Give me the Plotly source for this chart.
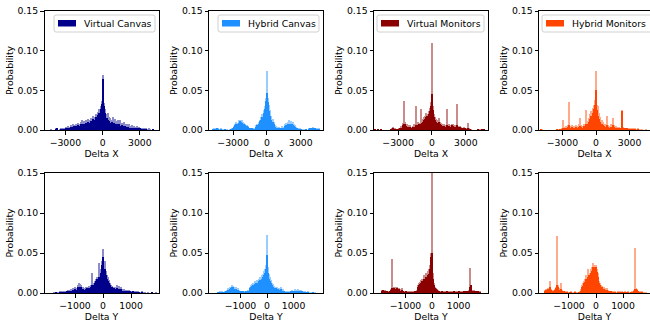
import plotly.graph_objects as go

# ---------------- data ----------------
dx_bins = list(range(-5000, 5001, 100))   # bin centers, Delta X
dy_bins = list(range(-2000, 2001, 40))    # bin centers, Delta Y

conditions = ["Virtual Canvas", "Hybrid Canvas", "Virtual Monitors", "Hybrid Monitors"]
colors = ["#00008b", "#1e90ff", "#8b0000", "#ff4500"]

# Virtual Canvas, Delta X
vc_x_light = [0,0,0,0,0,0,0,0,.001,0,
              0,0,.002,.002,0,.001,.002,.001,.003,.002,
              .004,.003,.005,.004,.006,.005,.007,.006,.008,.007,
              .009,.008,.010,.012,.009,.011,.013,.010,.014,.012,
              .015,.013,.018,.016,.020,.019,.023,.026,.030,.036,
              .069,
              .034,.026,.020,.022,.017,.015,.013,.016,.012,.014,
              .011,.013,.010,.012,.009,.008,.010,.007,.008,.006,
              .007,.005,.006,.004,.005,.004,.005,.003,.004,.003,
              .003,.002,.003,.002,.002,.001,.002,.001,0,.001,
              0,0,0,0,0,0,0,0,0,0]
vc_x_solid = [0,0,0,0,0,0,0,0,0,0,
              0,0,.001,.002,0,0,.001,0,.001,.001,
              .002,.002,.003,.002,.004,.003,.004,.005,.005,.004,
              .006,.005,.007,.006,.008,.007,.009,.008,.010,.009,
              .011,.010,.014,.012,.016,.015,.019,.022,.026,.033,
              .064,
              .030,.021,.015,.013,.011,.009,.010,.008,.009,.007,
              .007,.006,.007,.005,.006,.005,.004,.005,.004,.004,
              .003,.003,.002,.003,.002,.002,.003,.002,.001,.002,
              .001,.001,.001,0,.001,0,0,0,0,.001,
              0,0,0,0,0,0,0,0,0,0]

# Hybrid Canvas, Delta X
hc_x_light = [0,0,.001,.002,0,.002,.003,.002,.001,.002,
              .001,0,.001,.001,0,.001,0,.001,.001,.002,
              .003,.005,.008,.010,.009,.012,.013,.011,.012,.010,
              .009,.008,.006,.005,.003,.003,.002,.003,.002,.002,
              .006,.008,.007,.010,.013,.016,.020,.025,.030,.040,
              .075,
              .040,.032,.025,.018,.014,.010,.006,.005,.004,.003,
              .004,.003,.005,.003,.004,.007,.009,.008,.010,.012,
              .011,.009,.010,.008,.006,.004,.003,.002,.002,.001,
              .001,.001,0,.001,.001,0,.002,.003,.002,.003,
              .004,.002,.003,.002,.001,.002,0,0,0,0]
hc_x_solid = [0,0,.001,.001,0,.001,.002,.001,0,.001,
              0,0,0,.001,0,0,0,0,.001,.001,
              .002,.004,.006,.008,.007,.009,.011,.010,.009,.008,
              .007,.006,.005,.004,.002,.002,.001,.002,.001,.001,
              .004,.006,.005,.008,.011,.013,.017,.021,.026,.036,
              .047,
              .035,.024,.018,.013,.010,.007,.004,.003,.003,.002,
              .003,.002,.003,.002,.003,.005,.006,.006,.008,.007,
              .008,.007,.006,.005,.004,.003,.002,.001,.001,.001,
              0,0,0,0,.001,0,.001,.002,.001,.002,
              .002,.001,.002,.001,0,.001,0,0,0,0]

# Virtual Monitors, Delta X
vm_x_light = [.001,0,.001,0,0,.001,0,0,0,0,
              0,0,0,0,.001,.002,.004,.002,.001,.001,
              .001,.002,.003,.005,.009,.037,.010,.008,.007,.006,
              .005,.006,.004,.005,.007,.006,.030,.008,.010,.009,
              .026,.012,.014,.016,.018,.022,.020,.024,.028,.035,
              .110,
              .030,.020,.016,.014,.012,.015,.010,.009,.008,.007,
              .008,.006,.027,.006,.007,.005,.006,.008,.007,.006,
              .006,.033,.005,.004,.005,.004,.003,.004,.003,.002,
              .002,.009,.002,.001,.001,0,0,0,0,0,
              .001,0,.001,.001,0,.001,0,0,0,0]
vm_x_solid = [.001,0,.001,0,0,.001,0,0,0,0,
              0,0,0,0,.001,.001,.002,.001,.001,0,
              .001,.001,.002,.003,.006,.008,.007,.005,.004,.004,
              .003,.004,.003,.004,.004,.004,.006,.005,.006,.007,
              .008,.009,.010,.012,.014,.016,.018,.020,.024,.030,
              .045,
              .025,.016,.012,.010,.009,.010,.007,.006,.005,.005,
              .005,.004,.006,.004,.005,.004,.004,.006,.005,.004,
              .004,.006,.004,.003,.004,.003,.002,.002,.002,.001,
              .001,.002,.001,.001,0,0,0,0,0,0,
              .001,0,0,.001,0,.001,0,0,0,0]

# Hybrid Monitors, Delta X
hm_x_light = [0,.001,.001,0,0,0,0,0,0,0,
              0,0,0,0,0,.001,.001,0,.001,.001,
              .002,.013,.004,.005,.004,.006,.035,.005,.004,.006,
              .005,.004,.006,.005,.004,.007,.015,.006,.005,.007,
              .008,.025,.009,.011,.015,.020,.024,.028,.032,.038,
              .075,
              .032,.030,.022,.016,.012,.010,.008,.007,.006,.018,
              .006,.005,.007,.005,.015,.006,.004,.005,.004,.003,
              .004,.003,.025,.004,.003,.003,.002,.003,.002,.002,
              .002,.001,.002,.001,.002,.001,.001,.002,.001,0,
              .001,0,0,0,.001,0,0,0,0,0]
hm_x_solid = [0,.001,0,0,0,0,0,0,0,0,
              0,0,0,0,0,.001,0,0,.001,0,
              .001,.003,.002,.003,.002,.004,.006,.003,.003,.004,
              .003,.003,.004,.003,.003,.004,.005,.004,.003,.005,
              .005,.008,.006,.008,.010,.014,.018,.022,.026,.032,
              .050,
              .025,.018,.014,.010,.008,.006,.005,.004,.004,.006,
              .004,.003,.004,.003,.006,.004,.003,.003,.002,.002,
              .002,.002,.024,.002,.002,.002,.001,.002,.001,.001,
              .001,0,.001,0,.001,0,0,.001,0,0,
              0,0,0,0,0,0,0,0,0,0]

# Virtual Canvas, Delta Y
vc_y_light = [0,0,0,0,0,0,.001,0,.001,.001,
              .001,.002,.001,.002,.001,.002,.002,.003,.004,.003,
              .004,.005,.004,.006,.005,.007,.006,.010,.012,.011,
              .010,.008,.007,.006,.007,.008,.006,.009,.008,.010,
              .025,.012,.015,.017,.020,.018,.037,.024,.030,.040,
              .055,
              .040,.028,.022,.020,.016,.013,.010,.009,.008,.007,
              .008,.010,.007,.009,.006,.008,.005,.005,.004,.004,
              .004,.003,.004,.003,.002,.003,.002,.002,.002,.001,
              .002,.001,.001,.002,.001,0,.001,0,0,.001,
              0,0,.001,0,0,0,.001,0,0,0]
vc_y_solid = [0,0,0,0,0,0,0,0,.001,0,
              0,.001,0,.001,0,.001,.001,.002,.002,.002,
              .003,.003,.003,.004,.004,.005,.004,.007,.008,.007,
              .008,.005,.005,.004,.005,.006,.004,.006,.006,.007,
              .010,.010,.013,.015,.017,.016,.020,.020,.025,.035,
              .045,
              .030,.022,.018,.015,.012,.010,.008,.007,.006,.005,
              .005,.006,.005,.005,.004,.005,.003,.003,.003,.003,
              .002,.002,.002,.002,.001,.002,.001,.001,.001,.001,
              .001,.001,0,.001,0,0,0,0,0,0,
              0,0,.001,0,0,0,0,0,0,0]

# Hybrid Canvas, Delta Y
hc_y_light = [0,0,0,0,.001,.001,.002,.001,.002,.001,
              .002,.003,.004,.006,.005,.007,.008,.010,.009,.007,
              .006,.007,.005,.006,.004,.003,.002,.003,.002,.002,
              .003,.002,.004,.003,.008,.010,.011,.013,.012,.015,
              .014,.016,.018,.020,.019,.022,.024,.028,.030,.035,
              .073,
              .032,.024,.020,.016,.013,.011,.009,.008,.007,.006,
              .006,.005,.007,.004,.005,.003,.002,.002,.001,.002,
              .001,.002,.003,.004,.003,.005,.004,.003,.005,.004,
              .003,.004,.003,.002,.001,.002,.001,.001,.002,.001,
              .001,0,.001,.001,.001,0,0,0,0,0]
hc_y_solid = [0,0,0,0,.001,0,.001,.001,.001,.001,
              .001,.002,.003,.004,.004,.005,.006,.008,.007,.005,
              .004,.005,.004,.004,.003,.002,.001,.002,.001,.001,
              .002,.001,.003,.002,.006,.008,.009,.010,.009,.011,
              .012,.013,.015,.016,.016,.018,.020,.022,.025,.030,
              .048,
              .025,.018,.015,.012,.010,.008,.006,.006,.005,.005,
              .004,.004,.005,.003,.003,.002,.001,.001,.001,.001,
              .001,.001,.002,.003,.002,.003,.003,.002,.003,.002,
              .002,.002,.002,.001,.001,.001,0,.001,.001,0,
              0,0,.001,0,0,0,0,0,0,0]

# Virtual Monitors, Delta Y
vm_y_light = [0,0,0,.004,.004,.003,.004,.003,.002,.002,
              .003,.005,.043,.006,.008,.007,.006,.007,.005,.006,
              .005,.004,.006,.003,.002,.003,.002,.001,.002,.001,
              .002,.001,.002,.002,.003,.002,.004,.010,.012,.014,
              .016,.018,.022,.020,.025,.024,.028,.030,.035,.050,
              .160,
              .025,.012,.008,.006,.005,.004,.003,.002,.003,.002,
              .002,.001,.002,.003,.001,.002,.001,.002,.001,.002,
              .003,.002,.001,.002,.003,.002,.001,.002,.002,.003,
              .002,.003,.002,.003,.004,.031,.010,.004,.003,.004,
              .003,.002,.003,.002,.002,0,0,0,0,0]
vm_y_solid = [0,0,0,.003,.004,.003,.003,.002,.002,.001,
              .002,.004,.006,.005,.006,.005,.005,.006,.004,.005,
              .003,.003,.004,.002,.001,.002,.001,.001,.001,0,
              .001,.001,.001,.001,.002,.001,.003,.008,.010,.011,
              .013,.015,.018,.016,.020,.020,.022,.024,.030,.045,
              .050,
              .018,.010,.006,.005,.004,.003,.002,.001,.002,.001,
              .001,.001,.001,.002,.001,.001,0,.001,.001,.001,
              .002,.001,.001,.001,.002,.001,.001,.001,.001,.002,
              .001,.002,.001,.002,.003,.008,.010,.003,.002,.003,
              .002,.001,.002,.001,.001,0,0,0,0,0]

# Hybrid Monitors, Delta Y
hm_y_light = [0,0,0,.004,.005,.004,.006,.015,.005,.004,
              .003,.004,.005,.008,.071,.010,.006,.005,.012,.004,
              .003,.002,.001,.002,.001,0,.001,.002,.001,0,
              .001,.002,.001,0,.001,.002,.005,.010,.012,.015,
              .018,.022,.020,.030,.025,.030,.033,.037,.032,.035,
              .035,
              .030,.025,.015,.012,.010,.009,.007,.006,.005,.006,
              .004,.003,.002,.003,.002,.002,.001,.002,.001,.002,
              .001,.002,.001,.002,.001,.001,.002,.001,.001,.002,
              .001,.001,.002,.002,.004,.056,.006,.005,.002,.002,
              .002,.001,.002,.001,0,.001,0,0,0,0]
hm_y_solid = [0,0,0,.003,.004,.003,.005,.008,.004,.003,
              .002,.003,.004,.006,.010,.008,.004,.003,.005,.003,
              .002,.001,.001,.001,0,0,.001,.001,0,0,
              0,.001,0,0,.001,.001,.003,.008,.009,.012,
              .014,.018,.016,.020,.022,.025,.028,.033,.030,.032,
              .033,
              .026,.020,.012,.010,.008,.007,.005,.004,.004,.004,
              .003,.002,.001,.002,.001,.001,.001,.001,0,.001,
              .001,.001,0,.001,0,.001,.001,0,.001,.001,
              0,.001,.001,.001,.003,.005,.005,.004,.002,.001,
              .001,.001,.001,0,0,0,0,0,0,0]

x_light = [vc_x_light, hc_x_light, vm_x_light, hm_x_light]
x_solid = [vc_x_solid, hc_x_solid, vm_x_solid, hm_x_solid]
y_light = [vc_y_light, hc_y_light, vm_y_light, hm_y_light]
y_solid = [vc_y_solid, hc_y_solid, vm_y_solid, hm_y_solid]

prob_ticks = [0, 0.05, 0.10, 0.15]
dx_ticks = [-3000, 0, 3000]
dy_ticks = [-1000, 0, 1000]

# ---------------- layout geometry (screen pixels) ----------------
W, H = 650, 326
col_px = [(44.5, 158.5), (209, 323), (374, 488), (539, 653)]
row_px = [(11, 130), (173, 293)]
x_ranges = [[-4680, 4500], [-5130, 4960], [-5130, 4960], [-5090, 5090]]
y_ranges = [[-2090, 1980], [-2190, 2110], [-2190, 2110], [-2110, 2110]]


def fx(p):
    return p / W


def fy(p):
    return 1 - p / H


FONT = dict(family="DejaVu Sans", size=9.3, color="#000000")

fig = go.Figure()
layout = dict(
    width=W, height=H, margin=dict(l=0, r=0, t=0, b=0, autoexpand=False),
    paper_bgcolor="white", plot_bgcolor="white",
    barmode="overlay", bargap=0, font=FONT, showlegend=False,
)

for r in range(2):
    for c in range(4):
        k = r * 4 + c + 1
        xa = "x" if k == 1 else f"x{k}"
        ya = "y" if k == 1 else f"y{k}"
        bins = dx_bins if r == 0 else dy_bins
        width = 100 if r == 0 else 40
        light = x_light[c] if r == 0 else y_light[c]
        solid = x_solid[c] if r == 0 else y_solid[c]
        fig.add_trace(go.Bar(x=bins, y=light, width=width, xaxis=xa, yaxis=ya,
                             marker=dict(color=colors[c], line=dict(width=0)),
                             opacity=0.45, showlegend=False, hoverinfo="skip"))
        fig.add_trace(go.Bar(x=bins, y=solid, width=width, xaxis=xa, yaxis=ya,
                             marker=dict(color=colors[c], line=dict(width=0)),
                             opacity=1.0, showlegend=False, hoverinfo="skip"))
        x0, x1 = col_px[c]
        y0, y1 = row_px[r]
        xr = x_ranges[c] if r == 0 else y_ranges[c]
        d1 = fx(x1)
        if d1 > 1:  # panel runs past the right edge of the page: clip domain and range
            xr = [xr[0], xr[0] + (xr[1] - xr[0]) * (1 - fx(x0)) / (d1 - fx(x0))]
            d1 = 1
        axis_common = dict(showline=True, linecolor="#000000", linewidth=1,
                           ticks="outside", ticklen=3.5, tickwidth=1, tickcolor="#000000",
                           showgrid=False, zeroline=False, tickfont=FONT, automargin=False,
                           ticklabeloverflow="allow")
        xkey = "xaxis" if k == 1 else f"xaxis{k}"
        ykey = "yaxis" if k == 1 else f"yaxis{k}"
        layout[xkey] = dict(axis_common, domain=[fx(x0), d1], anchor=ya, mirror=True,
                            range=xr,
                            tickvals=(dx_ticks if r == 0 else dy_ticks),
                            title=dict(text=("Delta X" if r == 0 else "Delta Y"), font=FONT, standoff=3))
        layout[ykey] = dict(axis_common, domain=[fy(y1), fy(y0)], anchor=xa,
                            mirror=(c != 3), range=[0, 0.15], tickvals=prob_ticks,
                            tickformat=".2f",
                            title=dict(text="Probability", font=FONT, standoff=2))

# legends (top row only) drawn as a framed box, colour patch and label
legend_box_px = [(54, 155), (218, 319), (377, 484), (542, 660)]
legend_top, legend_bot = 15, 32
shapes, annotations = [], []

for c in range(4):
    bx0, bx1 = legend_box_px[c]
    rad = 2
    path = (f"M {fx(bx0 + rad)},{fy(legend_top)} "
            f"L {fx(bx1 - rad)},{fy(legend_top)} "
            f"Q {fx(bx1)},{fy(legend_top)} {fx(bx1)},{fy(legend_top + rad)} "
            f"L {fx(bx1)},{fy(legend_bot - rad)} "
            f"Q {fx(bx1)},{fy(legend_bot)} {fx(bx1 - rad)},{fy(legend_bot)} "
            f"L {fx(bx0 + rad)},{fy(legend_bot)} "
            f"Q {fx(bx0)},{fy(legend_bot)} {fx(bx0)},{fy(legend_bot - rad)} "
            f"L {fx(bx0)},{fy(legend_top + rad)} "
            f"Q {fx(bx0)},{fy(legend_top)} {fx(bx0 + rad)},{fy(legend_top)} Z")
    shapes.append(dict(type="path", xref="paper", yref="paper", path=path,
                       line=dict(color="#d0d0d0", width=1),
                       fillcolor="rgba(255,255,255,0.8)", layer="above"))
    shapes.append(dict(type="rect", xref="paper", yref="paper",
                       x0=fx(bx0 + 4), x1=fx(bx0 + 22), y0=fy(26.5), y1=fy(20),
                       line=dict(width=0), fillcolor=colors[c], layer="above"))
    annotations.append(dict(xref="paper", yref="paper", x=fx(bx0 + 28), y=fy(23.5),
                            xanchor="left", yanchor="middle", showarrow=False,
                            text=conditions[c], font=FONT))

layout["shapes"] = shapes
layout["annotations"] = annotations

fig.update_layout(**layout)
fig.write_html("out.html",
               config={"displayModeBar": False},
               post_script="document.body.style.margin='0';document.body.style.overflow='hidden';")
